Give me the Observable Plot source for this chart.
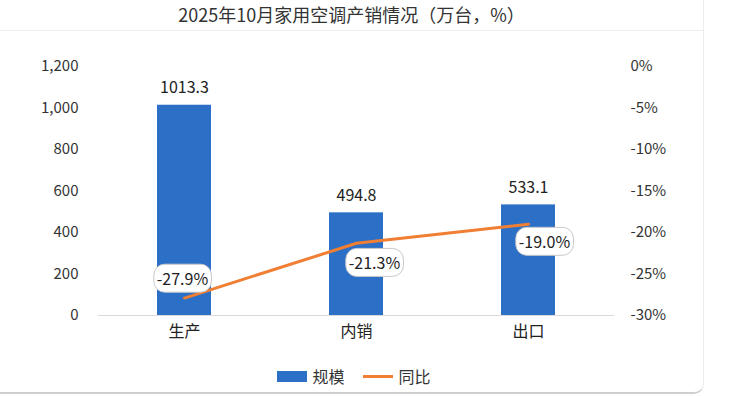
<!DOCTYPE html>
<html><head><meta charset="utf-8">
<script src="https://cdn.jsdelivr.net/npm/d3@7"></script>
<script src="https://cdn.jsdelivr.net/npm/@observablehq/plot@0.6"></script>
<style>
body{margin:0;background:#fff;font-family:"Noto Sans CJK SC","Noto Sans",sans-serif;}
#wrap{position:relative;width:730px;height:396px;overflow:hidden;}
#card{position:absolute;left:-10px;top:-8px;width:714px;height:402px;border:1px solid #ececec;border-bottom:2px solid #cfcfcf;border-radius:10px;box-sizing:border-box;}
#title{position:absolute;left:0;top:0;width:703px;height:31px;line-height:28px;text-align:center;font-size:18px;color:#333;border-bottom:1px solid #eeeeee;box-sizing:border-box;}
#chart{position:absolute;left:0;top:31px;}
#legend{position:absolute;left:0;top:364px;width:708px;display:flex;justify-content:center;align-items:center;font-size:16px;color:#333;gap:0;}
.sw{display:inline-block;width:30px;height:11px;background:#2b6fc7;margin-right:5px;}
.ln{display:inline-block;width:30px;height:3px;background:#f07e33;margin-left:18px;margin-right:6px;}
</style></head>
<body><div id="wrap"><div id="card"></div><div id="title">2025年10月家用空调产销情况（万台，%）</div><div id="chart"></div>
<div id="legend"><span class="sw"></span><span>规模</span><span class="ln"></span><span>同比</span></div></div>
<script>
const categories = ["生产", "内销", "出口"];
const volume = [1013.3, 494.8, 533.1];
const yoy = [-27.9, -21.3, -19.0];
const leftTicks = [0, 200, 400, 600, 800, 1000, 1200];
const rightTicks = [0, -5, -10, -15, -20, -25, -30];
const labelNudges = [{dx: -2, dy: -18}, {dx: 18, dy: 21}, {dx: 16, dy: 19}];

const toLeft = v => (v + 30) / 30 * 1200;
const rows = categories.map((c, i) => ({cat: c, vol: volume[i], yoy: yoy[i], yy: toLeft(yoy[i])}));
const blue = "#2b6fc7", orange = "#f07e33";
const fontFam = '"Noto Sans CJK SC","Noto Sans",sans-serif';

const chart = Plot.plot({
  width: 730, height: 324,
  marginLeft: 98, marginRight: 116, marginTop: 35, marginBottom: 40,
  style: {fontFamily: fontFam, fontSize: "15px", color: "#333", background: "transparent"},
  x: {domain: categories, padding: 0, label: null},
  y: {domain: [0, 1200], label: null},
  marks: [
    Plot.ruleY([0], {stroke: "#d9d9d9", strokeWidth: 1}),
    Plot.barY(rows, {x: "cat", y: "vol", fill: blue, insetLeft: 59, insetRight: 59}),
    Plot.text(rows, {x: "cat", y: "vol", text: d => d.vol.toFixed(1), lineAnchor: "bottom", dy: -12, fontSize: 16, fill: "#222"}),
    Plot.line(rows, {x: "cat", y: "yy", stroke: orange, strokeWidth: 3}),
    ...rows.map((r, i) => Plot.text([r], {x: "cat", y: "yy", text: d => d.yoy.toFixed(1) + "%", dx: labelNudges[i].dx, dy: labelNudges[i].dy, fontSize: 16, fill: "#222", className: "yoylab"})),
    Plot.axisY(leftTicks, {anchor: "left", tickSize: 0, tickPadding: 20, tickFormat: d => d3.format(",")(d), fontSize: 15, fill: "#333"}),
    Plot.axisY(rightTicks.map(toLeft), {anchor: "right", tickSize: 0, tickPadding: 16, textAnchor: "start", tickFormat: d => Math.round(d / 1200 * 30 - 30) + "%", fontSize: 15, fill: "#333"}),
    Plot.axisX({tickSize: 0, tickPadding: 10, fontSize: 16, fill: "#222"})
  ]
});
document.getElementById("chart").appendChild(chart);

// rounded label boxes behind yoy labels
d3.select(chart).selectAll("g.yoylab text").each(function() {
  const b = this.getBBox();
  const padX = 3, padY = 2;
  d3.select(this.parentNode).insert("rect", () => this)
    .attr("x", b.x - padX).attr("y", b.y - padY)
    .attr("width", b.width + 2 * padX).attr("height", b.height + 2 * padY)
    .attr("rx", 11).attr("ry", 11)
    .attr("fill", "#fff").attr("stroke", "#c8c8c8").attr("stroke-width", 1)
    .attr("transform", this.getAttribute("transform"));
});
</script></body></html>
